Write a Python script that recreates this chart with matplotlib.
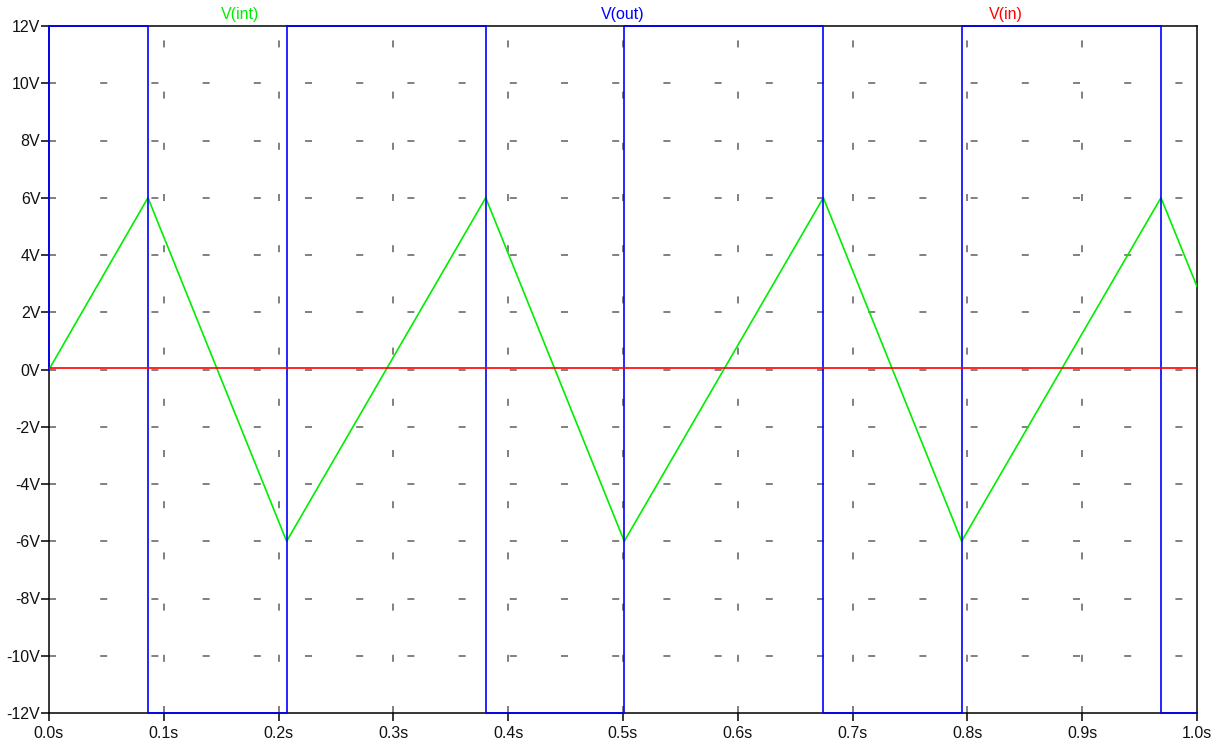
import matplotlib
matplotlib.use("Agg")
import matplotlib.pyplot as plt
from matplotlib.lines import Line2D

plt.rcParams['font.family'] = ['Liberation Sans', 'DejaVu Sans']
plt.rcParams['lines.scale_dashes'] = False

# ---- data ----
t_int = [0.0, 0.0862, 0.2070, 0.3804, 0.5011, 0.6745, 0.7950, 0.9686, 1.0]
v_int = [0.0, 6.0, -6.0, 6.0, -6.0, 6.0, -6.0, 6.0, 2.9]

t_out = [0.0, 0.0, 0.0862, 0.0862, 0.2070, 0.2070, 0.3804, 0.3804, 0.5011,
         0.5011, 0.6745, 0.6745, 0.7950, 0.7950, 0.9686, 0.9686, 1.0]
v_out = [0, 12, 12, -12, -12, 12, 12, -12, -12, 12, 12, -12, -12, 12, 12, -12, -12]

t_in = [0.0, 1.0]
v_in = [0.05, 0.05]

x_ticks = [0.0, 0.1, 0.2, 0.3, 0.4, 0.5, 0.6, 0.7, 0.8, 0.9, 1.0]
x_labels = ["0.0s", "0.1s", "0.2s", "0.3s", "0.4s", "0.5s", "0.6s", "0.7s", "0.8s", "0.9s", "1.0s"]
y_ticks = [-12, -10, -8, -6, -4, -2, 0, 2, 4, 6, 8, 10, 12]
y_labels = ["-12V", "-10V", "-8V", "-6V", "-4V", "-2V", "0V", "2V", "4V", "6V", "8V", "10V", "12V"]

trace_names = ["V(int)", "V(out)", "V(in)"]
trace_colors = ["#00ee00", "#0000ff", "#ff0000"]

# ---- figure ----
W, H, DPI = 1225, 745, 100
fig = plt.figure(figsize=(W / DPI, H / DPI), dpi=DPI)
ax = fig.add_axes([49 / W, 1 - 713 / H, (1197 - 49) / W, (713 - 26) / H])
ax.set_xlim(0, 1)
ax.set_ylim(-12, 12)

# LTspice-like sparse dashed grid (pixel-pitch dashes)
px = 72 / DPI
dash = (0, (7 * px, 44.2 * px))
for yv in y_ticks[1:-1]:
    ax.add_line(Line2D([0, 1], [yv, yv], color="#808080", lw=1.4, ls=dash,
                       dash_capstyle='butt', zorder=1))
for xv in x_ticks[1:-1]:
    ax.add_line(Line2D([xv, xv], [-12, 12], color="#808080", lw=1.4, ls=dash,
                       dash_capstyle='butt', zorder=1))

ax.plot(t_int, v_int, color=trace_colors[0], lw=1.2, zorder=3)
ax.plot(t_out, v_out, color=trace_colors[1], lw=1.2, zorder=4, clip_on=False)
ax.plot(t_in, v_in, color=trace_colors[2], lw=1.2, zorder=5)

ax.set_xticks(x_ticks)
ax.set_xticklabels(x_labels)
ax.set_yticks(y_ticks)
ax.set_yticklabels(y_labels)
ax.tick_params(axis='both', direction='out', length=5.5, width=1.1, color='black',
               labelsize=11.5, labelcolor='#111111')
ax.tick_params(axis='x', pad=3.5)
ax.tick_params(axis='y', pad=0.8)
for s in ax.spines.values():
    s.set_linewidth(1.1)
    s.set_color('black')
    s.set_zorder(2)

for frac, name, col in zip([1 / 6, 0.5, 5 / 6], trace_names, trace_colors):
    ax.text(frac, 1.0 + 12 / (713 - 26), name, transform=ax.transAxes, color=col,
            fontsize=11.5, ha='center', va='center')

fig.savefig("out.png", dpi=DPI, facecolor='white')
